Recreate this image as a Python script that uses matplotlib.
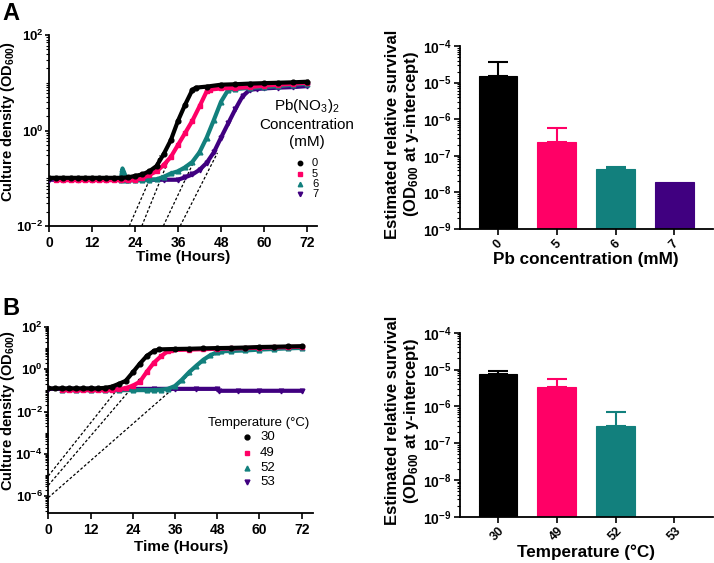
import numpy as np
import matplotlib
matplotlib.use("Agg")
import matplotlib.pyplot as plt
from matplotlib.lines import Line2D
from matplotlib.ticker import FixedLocator, FixedFormatter, LogLocator, NullFormatter

plt.rcParams['font.family'] = ['Liberation Sans', 'DejaVu Sans']
plt.rcParams['mathtext.fontset'] = 'custom'
plt.rcParams['mathtext.rm'] = 'Liberation Sans'
plt.rcParams['mathtext.bf'] = 'Liberation Sans:bold'
plt.rcParams['mathtext.it'] = 'Liberation Sans:italic'
plt.rcParams['mathtext.default'] = 'regular'

# ---------------- data: panel A growth curves (Pb(NO3)2, mM) ----------------
pb_labels = ['0', '5', '6', '7']
a0_t = [0, 2, 4, 6, 8, 10, 12, 14, 16, 18, 20, 22, 24, 26, 28, 30, 32, 34, 36, 38, 40, 41, 44, 48, 52, 56, 60, 64, 68, 72]
a0_od = [0.102, 0.102, 0.102, 0.102, 0.102, 0.102, 0.102, 0.102, 0.102, 0.102, 0.102, 0.104, 0.112, 0.12, 0.14, 0.18,
         0.32, 0.63, 1.6, 3.5, 7.1, 7.9, 8.3, 9.1, 9.3, 9.6, 9.8, 10.0, 10.2, 10.5]
a5_t = [2, 4, 6, 8, 10, 12, 14, 16, 18, 20, 22, 24, 26, 28, 30, 32, 34, 36, 38, 40, 42, 44, 45, 48, 52, 56, 60, 64, 68, 72]
a5_od = [0.091, 0.091, 0.091, 0.091, 0.091, 0.091, 0.091, 0.091, 0.091, 0.091, 0.091, 0.092, 0.1, 0.117, 0.14, 0.19,
         0.28, 0.5, 0.89, 1.6, 3.2, 6.6, 7.2, 7.6, 7.8, 8.1, 8.7, 9.1, 9.5, 10.0]
a6_t = [20, 20.5, 21, 21.5, 22, 24, 26, 28, 30, 32, 34, 36, 38, 40, 42, 44, 46, 48, 50, 52, 56, 60, 64, 68, 72]
a6_od = [0.091, 0.16, 0.13, 0.091, 0.091, 0.091, 0.091, 0.093, 0.095, 0.107, 0.126, 0.14, 0.17, 0.22, 0.35, 0.71,
         1.66, 4.0, 7.1, 7.4, 7.8, 8.1, 8.5, 9.1, 9.5]
a7_t = [0, 4, 8, 12, 16, 20, 24, 28, 32, 36, 38, 40, 42, 44, 46, 48, 50, 52, 54, 56, 58, 60, 64, 68, 72]
a7_od = [0.093, 0.093, 0.093, 0.093, 0.093, 0.093, 0.093, 0.093, 0.093, 0.093, 0.105, 0.12, 0.15, 0.21, 0.35, 0.71,
         1.41, 2.8, 5.2, 7.1, 7.4, 7.6, 7.9, 8.1, 8.5]
# tangent (dashed) lines, panel A: start/end time and OD
dashA_t = [[22.4, 31.0], [25.9, 34.0], [31.9, 42.0], [36.6, 47.0]]
dashA_od = [[0.01, 0.30], [0.01, 0.32], [0.01, 0.40], [0.01, 0.34]]

# ---------------- data: panel B growth curves (temperature, C) ----------------
temp_labels = ['30', '49', '52', '53']
b30_t = [0, 2, 4, 6, 8, 10, 12, 14, 16, 18, 20, 22, 24, 26, 28, 30, 31.5, 36, 40, 44, 48, 52, 56, 60, 64, 68, 72]
b30_od = [0.123, 0.123, 0.123, 0.123, 0.123, 0.123, 0.123, 0.123, 0.13, 0.148, 0.2, 0.28, 0.7, 1.8, 4.2, 7.2, 8.5,
          8.9, 9.1, 9.5, 9.8, 10.0, 10.4, 11.0, 11.3, 11.7, 12.0]
b49_t = [4, 6, 8, 10, 12, 14, 16, 18, 20, 22, 24, 26, 28, 30, 32, 34, 35, 40, 44, 48, 52, 56, 60, 64, 68, 72]
b49_od = [0.102, 0.102, 0.102, 0.102, 0.102, 0.102, 0.102, 0.102, 0.112, 0.126, 0.166, 0.25, 0.75, 2.0, 4.0, 7.1,
          7.9, 8.3, 8.7, 9.1, 9.5, 9.8, 10.2, 10.6, 11.0, 11.5]
b52_t = [4, 8, 12, 16, 20, 24, 28, 30, 32, 34, 36, 38, 40, 42, 44, 46, 48, 49, 52, 56, 60, 64, 68, 72]
b52_od = [0.102, 0.102, 0.102, 0.102, 0.102, 0.102, 0.102, 0.102, 0.107, 0.117, 0.16, 0.32, 0.71, 1.41, 2.7, 4.5,
          6.3, 6.9, 7.2, 7.6, 8.3, 8.9, 9.5, 10.0]
b53_t = [0, 6, 12, 18, 24, 30, 36, 42, 48, 48.5, 54, 60, 66, 72]
b53_od = [0.117, 0.117, 0.117, 0.117, 0.117, 0.117, 0.117, 0.117, 0.117, 0.095, 0.095, 0.095, 0.095, 0.095]
dashB_t = [[0, 22], [0, 26], [0, 40]]
dashB_od = [[9.1e-6, 0.35], [3.3e-6, 0.36], [8.7e-7, 0.55]]

# ---------------- data: bar charts ----------------
pb_survival = [1.48e-5, 2.45e-7, 4.3e-8, 1.9e-8]
pb_err = [2.1e-5, 3.45e-7, 0.7e-8, 0.0]
temp_survival = [7.55e-6, 3.41e-6, 2.97e-7, np.nan]
temp_err = [1.3e-6, 2.2e-6, 4.2e-7, 0.0]

time_ticks = [0, 12, 24, 36, 48, 60, 72]

# ---------------- styles ----------------
colors = ['#000000', '#ff0066', '#12807d', '#400080']
markers = ['o', 's', '^', 'v']

W, H = 714, 563
fig = plt.figure(figsize=(W / 100, H / 100), dpi=100)


def ax_px(l, r, t, b):
    return fig.add_axes([l / W, 1 - b / H, (r - l) / W, (b - t) / H])


def ftext(x, y, s, **kw):
    return fig.text(x / W, 1 - y / H, s, **kw)


def fmarker(x, y, c, m, ms):
    fig.add_artist(Line2D([x / W], [1 - y / H], transform=fig.transFigure, marker=m,
                          color=c, mec=c, mfc=c, ms=ms, ls='none'))


def style_axes(ax):
    for s in ['top', 'right']:
        ax.spines[s].set_visible(False)
    for s in ['left', 'bottom']:
        ax.spines[s].set_linewidth(1.3)
    ax.tick_params(which='major', direction='out', length=4, width=1.2, labelsize=10)
    ax.tick_params(which='minor', direction='out', length=2, width=0.8)
    for lab in ax.get_xticklabels() + ax.get_yticklabels():
        lab.set_fontweight('bold')


def log_labels(exps):
    return [r'$\mathbf{10^{%d}}$' % e for e in exps]


axA = ax_px(49, 316.7, 35, 226)
axA2 = ax_px(460, 713, 46, 229)
axB = ax_px(48.3, 313.3, 326.7, 513.3)
axB2 = ax_px(460, 713, 332.7, 516.7)

# ---------------- growth curves ----------------
curvesA = [(a0_t, a0_od), (a5_t, a5_od), (a6_t, a6_od), (a7_t, a7_od)]
curvesB = [(b30_t, b30_od), (b49_t, b49_od), (b52_t, b52_od), (b53_t, b53_od)]

for ax, curves, dts, dods, xmax, ylim, yexps in [
        (axA, curvesA, dashA_t, dashA_od, 74.7, (1e-2, 1e2), [-2, 0, 2]),
        (axB, curvesB, dashB_t, dashB_od, 75.3, (10 ** -6.8, 1e2), [-6, -4, -2, 0, 2])]:
    ax.set_yscale('log')
    for i in range(3, -1, -1):
        t, od = curves[i]
        ax.plot(t, od, color=colors[i], lw=3.0, marker=markers[i], ms=3.4,
                mec=colors[i], mfc=colors[i], zorder=3 + (3 - i) * 0.1)
    for dt, dod in zip(dts, dods):
        ax.plot(dt, dod, color='black', lw=0.9, ls=(0, (2.2, 1.6)), zorder=2)
    ax.set_xlim(0, xmax)
    ax.set_ylim(*ylim)
    ax.xaxis.set_major_locator(FixedLocator(time_ticks))
    ax.yaxis.set_major_locator(FixedLocator([10.0 ** e for e in yexps]))
    ax.yaxis.set_major_formatter(FixedFormatter(log_labels(yexps)))
    ax.yaxis.set_minor_locator(LogLocator(base=10, subs=np.arange(1, 10), numticks=100))
    ax.yaxis.set_minor_formatter(NullFormatter())
    style_axes(ax)
    ax.tick_params(axis='x', pad=3)
    ax.tick_params(axis='y', which='major', pad=1, length=3, labelsize=9.5)

# ---------------- bar charts ----------------
for ax, vals, errs, labels in [(axA2, pb_survival, pb_err, pb_labels),
                               (axB2, temp_survival, temp_err, temp_labels)]:
    ax.set_yscale('log')
    x = np.arange(len(vals))
    for i in range(len(vals)):
        if np.isnan(vals[i]):
            continue
        ax.bar(x[i], vals[i], width=0.66, color=colors[i], edgecolor=colors[i], lw=0.8, zorder=2)
        if errs[i] > 0:
            ax.errorbar(x[i], vals[i], yerr=[[0], [errs[i]]], color=colors[i], lw=1.5,
                        capsize=7, capthick=1.5, zorder=3)
    ax.set_xlim(-0.648, 3.66)
    ax.set_ylim(1e-9, 1e-4)
    yexps = [-9, -8, -7, -6, -5, -4]
    ax.yaxis.set_major_locator(FixedLocator([10.0 ** e for e in yexps]))
    ax.yaxis.set_major_formatter(FixedFormatter(log_labels(yexps)))
    ax.yaxis.set_minor_locator(LogLocator(base=10, subs=np.arange(2, 10), numticks=100))
    ax.yaxis.set_minor_formatter(NullFormatter())
    ax.set_xticks(x)
    ax.set_xticklabels(labels, rotation=45, ha='center', va='top')
    style_axes(ax)
    ax.tick_params(axis='x', labelsize=9, pad=2)
    ax.tick_params(axis='y', pad=2)

# ---------------- axis labels ----------------
ylab = r'Culture density (OD$_{\mathbf{600}}$)'
ftext(8.3, 121.7, ylab, rotation=90, ha='center', va='center', fontsize=10.5, fontweight='bold')
ftext(8.3, 410.6, ylab, rotation=90, ha='center', va='center', fontsize=10.5, fontweight='bold')
ftext(183.3, 257, 'Time (Hours)', ha='center', va='center', fontsize=11, fontweight='bold')
ftext(180.8, 547, 'Time (Hours)', ha='center', va='center', fontsize=11, fontweight='bold')
surv_label = 'Estimated relative survival\n' + r'(OD$_{\mathbf{600}}$ at y-intercept)'
ftext(403, 134, surv_label, rotation=90, ha='center', va='center', fontsize=12,
      fontweight='bold', multialignment='center')
ftext(403, 420.8, surv_label, rotation=90, ha='center', va='center', fontsize=12,
      fontweight='bold', multialignment='center')
ftext(585.8, 259.5, 'Pb concentration (mM)', ha='center', va='center', fontsize=12.3, fontweight='bold')
ftext(585.8, 552, 'Temperature (°C)', ha='center', va='center', fontsize=12.3, fontweight='bold')

# panel letters
ftext(2, 13.5, 'A', ha='left', va='center', fontsize=17, fontweight='bold')
ftext(2, 308.5, 'B', ha='left', va='center', fontsize=17, fontweight='bold')

# ---------------- legends ----------------
ftext(307, 106, r'Pb(NO$_{3}$)$_{2}$', ha='center', va='center', fontsize=11)
ftext(307, 125, 'Concentration', ha='center', va='center', fontsize=11)
ftext(307, 142, '(mM)', ha='center', va='center', fontsize=11)
for i, yy in enumerate([163.3, 173.5, 184, 194.3]):
    fmarker(300, yy, colors[i], markers[i], 3.2)
    ftext(312, yy, pb_labels[i], ha='left', va='center', fontsize=8)

ftext(208, 423.3, 'Temperature (°C)', ha='left', va='center', fontsize=9.5)
for i, yy in enumerate([436.7, 452.7, 467.7, 482.3]):
    fmarker(247, yy, colors[i], markers[i], 3.5)
    ftext(260, yy, temp_labels[i], ha='left', va='center', fontsize=9.5)

fig.savefig('out.png', dpi=100)
